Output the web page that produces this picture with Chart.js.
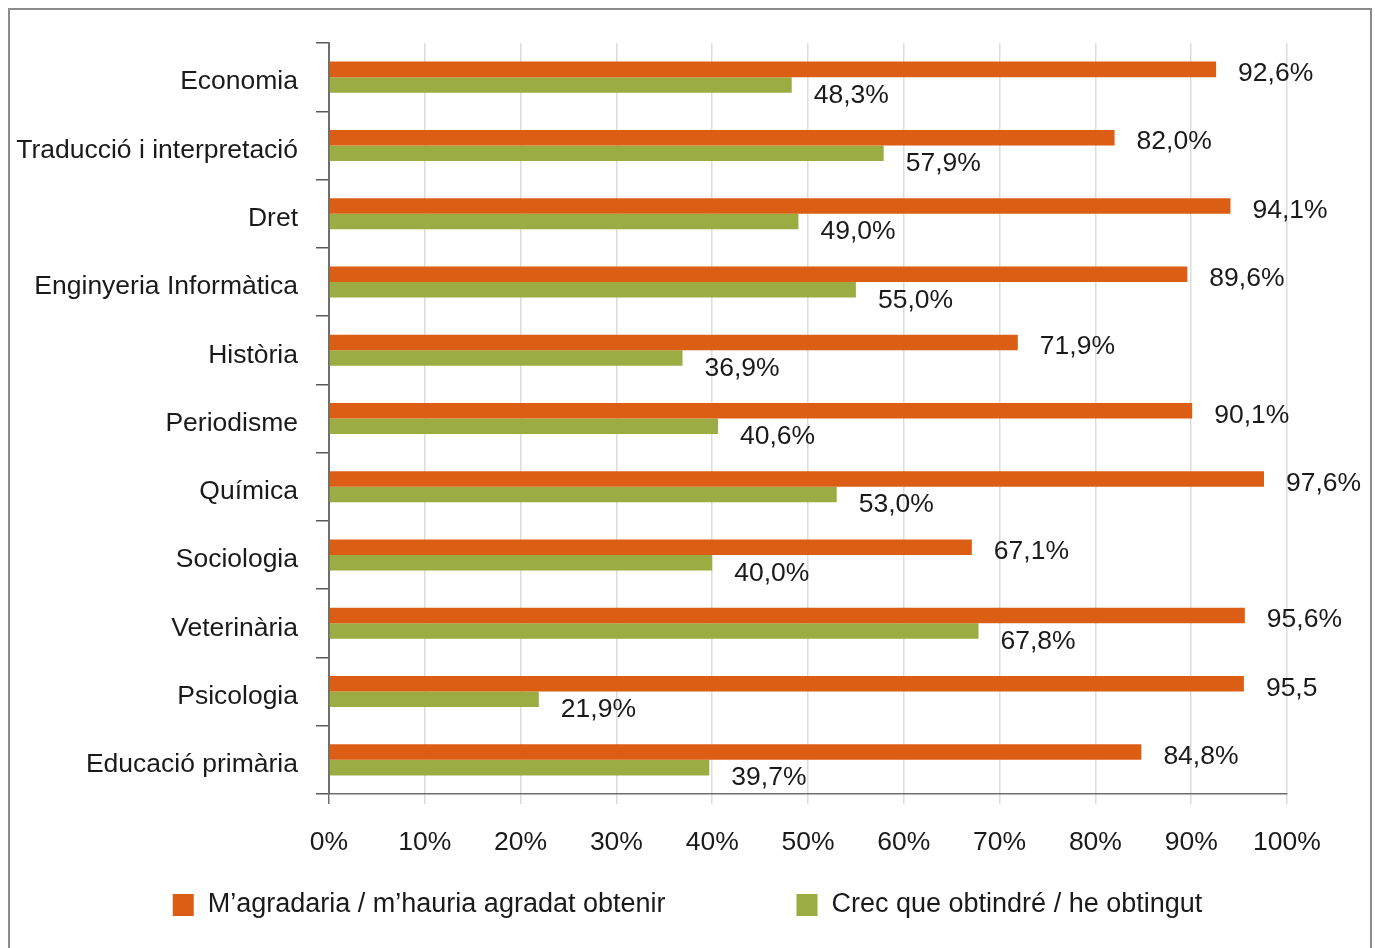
<!DOCTYPE html>
<html>
<head>
<meta charset="utf-8">
<script src="https://cdn.jsdelivr.net/npm/chart.js@4"></script>
<style>
  html, body { margin: 0; padding: 0; background: #ffffff; }
  #frame { position: absolute; left: 8px; top: 8px; width: 1360px; height: 1000px; border: 2px solid #8c8c8c; }
  #c { position: absolute; left: 0; top: 0; }
</style>
</head>
<body>
<div id="frame"></div>
<canvas id="c" width="1375" height="948"></canvas>
<script>
const categories = ["Economia", "Traducció i interpretació", "Dret", "Enginyeria Informàtica", "Història", "Periodisme", "Química", "Sociologia", "Veterinària", "Psicologia", "Educació primària"];
const seriesNames = ["M\u2019agradaria / m\u2019hauria agradat obtenir", "Crec que obtindré / he obtingut"];
const wantedValues = [92.6, 82.0, 94.1, 89.6, 71.9, 90.1, 97.6, 67.1, 95.6, 95.5, 84.8];
const obtainedValues = [48.3, 57.9, 49.0, 55.0, 36.9, 40.6, 53.0, 40.0, 67.8, 21.9, 39.7];
const wantedLabels = ["92,6%", "82,0%", "94,1%", "89,6%", "71,9%", "90,1%", "97,6%", "67,1%", "95,6%", "95,5", "84,8%"];
const obtainedLabels = ["48,3%", "57,9%", "49,0%", "55,0%", "36,9%", "40,6%", "53,0%", "40,0%", "67,8%", "21,9%", "39,7%"];
const xTickValues = [0, 10, 20, 30, 40, 50, 60, 70, 80, 90, 100];

const FONT = '"Liberation Sans", Arial, Helvetica, sans-serif';
const TEXT = '#1a1a1a';
const ORANGE = '#DC5E15';
const GREEN = '#9BAC42';

const valueLabels = {
  id: 'valueLabels',
  afterDatasetsDraw(chart) {
    const ctx = chart.ctx;
    const labelSets = [wantedLabels, obtainedLabels];
    ctx.save();
    ctx.font = '26.5px ' + FONT;
    ctx.fillStyle = TEXT;
    ctx.textAlign = 'left';
    ctx.textBaseline = 'middle';
    chart.data.datasets.forEach((ds, di) => {
      const meta = chart.getDatasetMeta(di);
      meta.data.forEach((bar, i) => {
        const dy = di === 0 ? 4.5 : 10.5;
        ctx.fillText(labelSets[di][i], bar.x + 22, bar.y + dy);
      });
    });
    ctx.restore();
  }
};

const customLegend = {
  id: 'customLegend',
  afterDraw(chart) {
    const ctx = chart.ctx;
    ctx.save();
    ctx.font = '27px ' + FONT;
    ctx.textBaseline = 'middle';
    ctx.textAlign = 'left';
    const box = 21, gapText = 14, gapItem = 131;
    const items = chart.data.datasets.map(ds => ({ label: ds.label, color: ds.backgroundColor, w: ctx.measureText(ds.label).width }));
    let total = 0;
    items.forEach((it, i) => { total += box + gapText + it.w + (i < items.length - 1 ? gapItem : 0); });
    let x = (chart.width - total) / 2;
    const yc = 905;
    items.forEach(it => {
      ctx.fillStyle = it.color;
      ctx.fillRect(x, yc - 11, box, 22);
      ctx.fillStyle = TEXT;
      ctx.fillText(it.label, x + box + gapText, yc);
      x += box + gapText + it.w + gapItem;
    });
    ctx.restore();
  }
};

new Chart(document.getElementById('c'), {
  type: 'bar',
  data: {
    labels: categories,
    datasets: [
      { label: seriesNames[0], data: wantedValues, backgroundColor: ORANGE, borderWidth: 0, categoryPercentage: 0.455, barPercentage: 1.0 },
      { label: seriesNames[1], data: obtainedValues, backgroundColor: GREEN, borderWidth: 0, categoryPercentage: 0.455, barPercentage: 1.0 }
    ]
  },
  options: {
    indexAxis: 'y',
    responsive: false,
    animation: false,
    layout: { padding: { left: 0, top: 43, right: 88, bottom: 85 } },
    plugins: {
      legend: { display: false },
      tooltip: { enabled: false }
    },
    scales: {
      x: {
        min: 0, max: 100,
        afterBuildTicks(scale) { scale.ticks = xTickValues.map(v => ({ value: v })); },
        afterFit(scale) { scale.height = 69; },
        ticks: {
          callback: v => v + '%',
          color: TEXT,
          font: { family: FONT, size: 26.5 },
          padding: 23,
          maxRotation: 0
        },
        grid: {
          color: ctx => ctx.index === 0 ? '#6e6e6e' : '#dcdcdc',
          lineWidth: 1.5,
          tickLength: 10,
          drawTicks: true
        },
        border: { display: true, color: '#6e6e6e', width: 1.5 }
      },
      y: {
        afterFit(scale) { scale.width = 329; },
        ticks: {
          color: TEXT,
          font: { family: FONT, size: 26.5 },
          padding: 18,
          labelOffset: 5
        },
        grid: {
          drawOnChartArea: false,
          drawTicks: true,
          tickLength: 13,
          color: '#5a5a5a',
          lineWidth: 1.5
        },
        border: { display: true, color: '#6e6e6e', width: 2 }
      }
    }
  },
  plugins: [valueLabels, customLegend]
});
</script>
</body>
</html>
